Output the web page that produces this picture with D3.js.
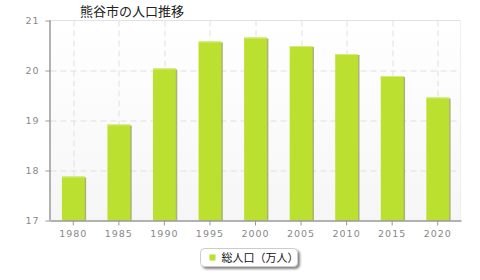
<!DOCTYPE html>
<html lang="ja">
<head>
<meta charset="UTF-8">
<title>熊谷市の人口推移</title>
<script src="https://d3js.org/d3.v7.min.js"></script>
<style>
  html, body { margin: 0; padding: 0; background: #fff; overflow: hidden; }
  text { font-family: "DejaVu Sans", sans-serif; }
</style>
</head>
<body>
<div id="chart"></div>
<script>
const years = ['1980', '1985', '1990', '1995', '2000', '2005', '2010', '2015', '2020']
const population = [17.88, 18.92, 20.04, 20.58, 20.66, 20.49, 20.33, 19.89, 19.46]
const yTicks = [17, 18, 19, 20, 21]
const title = '熊谷市の人口推移'
const seriesName = '総人口（万人）'

const W = 480, H = 280
const m = { top: 20.5, right: 19.5, bottom: 59.5, left: 50.5 }
const iw = W - m.left - m.right, ih = H - m.top - m.bottom

const svg = d3.select('#chart').append('svg').attr('width', W).attr('height', H)

const defs = svg.append('defs')
const grad = defs.append('linearGradient').attr('id', 'bg').attr('x1', 0).attr('y1', 0).attr('x2', 0).attr('y2', 1)
grad.append('stop').attr('offset', '0%').attr('stop-color', '#ffffff')
grad.append('stop').attr('offset', '100%').attr('stop-color', '#f6f6f6')
const lg = defs.append('filter').attr('id', 'sh').attr('x', '-20%').attr('y', '-40%').attr('width', '140%').attr('height', '200%')
lg.append('feDropShadow').attr('dx', 2).attr('dy', 2).attr('stdDeviation', 1).attr('flood-color', '#333').attr('flood-opacity', 0.6)

const x = d3.scaleBand().domain(years).range([0, iw]).paddingInner(0.5).paddingOuter(0.25)
const y = d3.scaleLinear().domain([17, 21]).range([ih, 0])

const g = svg.append('g').attr('transform', `translate(${m.left},${m.top})`)

g.append('rect').attr('width', iw).attr('height', ih).attr('fill', 'url(#bg)')
g.append('line').attr('x1', 0).attr('x2', iw).attr('y1', 0).attr('y2', 0).attr('stroke', '#e2e2e2')
g.append('line').attr('x1', iw).attr('x2', iw).attr('y1', 0).attr('y2', ih).attr('stroke', '#eeeeee')

// grid
g.selectAll('.hgrid').data(yTicks.slice(1, -1)).enter().append('line')
  .attr('x1', 0).attr('x2', iw)
  .attr('y1', d => Math.round(y(d)) + 0.5).attr('y2', d => Math.round(y(d)) + 0.5)
  .attr('stroke', '#e0e0e0').attr('stroke-dasharray', '6,4')
g.selectAll('.vgrid').data(years).enter().append('line')
  .attr('x1', d => Math.round(x(d) + x.bandwidth() / 2) + 0.5).attr('x2', d => Math.round(x(d) + x.bandwidth() / 2) + 0.5)
  .attr('y1', 0).attr('y2', ih)
  .attr('stroke', '#e0e0e0').attr('stroke-dasharray', '6,4')

// bars
const bars = g.selectAll('.bar').data(years).enter().append('g')
bars.append('rect')
  .attr('x', d => x(d) + 1.5).attr('y', (d, i) => y(population[i]) + 1)
  .attr('width', x.bandwidth()).attr('height', (d, i) => ih - y(population[i]) - 1)
  .attr('fill', '#8f9c4a').attr('opacity', 0.75)
bars.append('rect')
  .attr('x', d => x(d)).attr('y', (d, i) => y(population[i]))
  .attr('width', x.bandwidth()).attr('height', (d, i) => ih - y(population[i]))
  .attr('fill', '#bce02f')
bars.append('line')
  .attr('x1', d => x(d)).attr('x2', d => x(d) + x.bandwidth())
  .attr('y1', (d, i) => y(population[i]) + 0.5).attr('y2', (d, i) => y(population[i]) + 0.5)
  .attr('stroke', '#d4ec7a')

// axes
const yAxis = g.append('g').call(d3.axisLeft(y).tickValues(yTicks).tickFormat(d3.format('d')).tickSize(5).tickPadding(6))
const xAxis = g.append('g').attr('transform', `translate(0,${ih})`)
  .call(d3.axisBottom(x).tickSize(5).tickPadding(5))
;[yAxis, xAxis].forEach(a => {
  a.select('.domain').attr('stroke', '#999').attr('stroke-width', 1.5)
  a.selectAll('.tick line').attr('stroke', '#999')
  a.selectAll('.tick text').attr('fill', '#888').style('font-size', '9.5px').style('letter-spacing', '1px')
})
xAxis.select('.domain').attr('d', `M0,0.5H${iw + 1}`)
yAxis.select('.domain').attr('d', `M-0.5,0V${ih}`)

// title
svg.append('text').attr('x', 80).attr('y', 16).text(title)
  .style('font-family', '"Noto Sans CJK JP", sans-serif').style('font-size', '13px').attr('fill', '#222')

// legend
const leg = svg.append('g').attr('transform', 'translate(200.5,248.5)')
leg.append('rect').attr('width', 97).attr('height', 18).attr('rx', 4)
  .attr('fill', '#fff').attr('stroke', '#ccc').attr('filter', 'url(#sh)')
leg.append('rect').attr('x', 9).attr('y', 6).attr('width', 6).attr('height', 6).attr('fill', '#bce02f')
leg.append('text').attr('x', 21).attr('y', 13.5).text(seriesName)
  .style('font-family', '"Noto Sans CJK JP", sans-serif').style('font-size', '11px').attr('fill', '#111')
</script>
</body>
</html>
